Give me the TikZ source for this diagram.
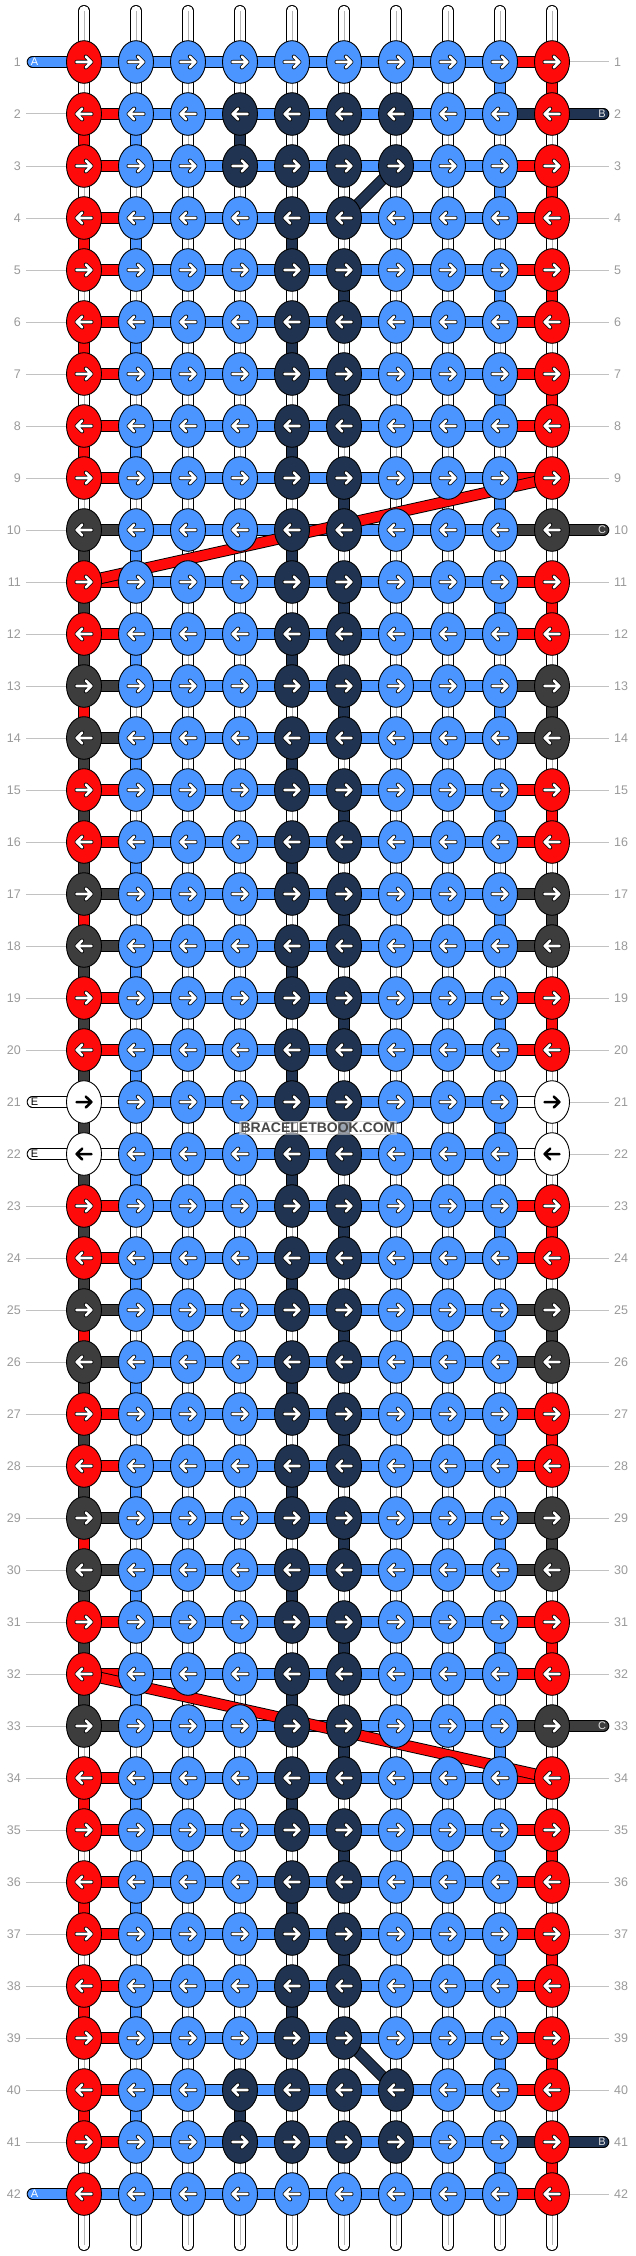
\documentclass[tikz,border=0pt]{standalone}
\usepackage{fontspec}
\setmainfont{Liberation Sans}
\usetikzlibrary{shapes.geometric}
\definecolor{colR}{HTML}{FF0A0A}
\definecolor{colB}{HTML}{4A95FF}
\definecolor{colN}{HTML}{203350}
\definecolor{colG}{HTML}{3D3D3D}
\definecolor{colW}{HTML}{FFFFFF}
\definecolor{lblgray}{HTML}{9A9A9A}
\definecolor{guidegray}{HTML}{C2C2C2}
\definecolor{warpgray}{HTML}{B4B4B4}
\newcommand\bbedge[1]{\ifcase#1\or R\or R\or R\or R\or R\or R\or R\or R\or R\or G\or R\or R\or G\or G\or R\or R\or G\or G\or R\or R\or W\or W\or R\or R\or G\or G\or R\or R\or G\or G\or R\or R\or G\or R\or R\or R\or R\or R\or R\or R\or R\or R\fi}
\newcommand\bbstrand[3]{\draw[line width=11.6pt,black](#2)--(#3);\draw[line width=9.8pt,color=col#1](#2)--(#3);}
\newcommand\bbwarp[2]{\draw[line width=11.6pt,black](#1)--(#2);\draw[line width=9.8pt,white](#1)--(#2);\draw[line width=0.9pt,warpgray](#1)--(#2);}
\tikzset{
 knot/.style={ellipse, draw=black, line width=0.9pt, minimum width=35pt, minimum height=42.6pt, inner sep=0pt},
 arrW/.pic={\draw[line width=4pt,black,line cap=round,line join=round] (-7.5,0)--(7,0) (1.8,-5.4)--(7.4,0)--(1.8,5.4);
            \draw[line width=2.6pt,white,line cap=round,line join=round] (-7.5,0)--(7,0) (1.8,-5.4)--(7.4,0)--(1.8,5.4);},
 arrK/.pic={\draw[line width=2.5pt,black,line cap=round,line join=round] (-7.5,0)--(7,0) (1.8,-5.4)--(7.4,0)--(1.8,5.4);},
 numlbl/.style={text=lblgray, font=\fontsize{12.5}{14}\selectfont, inner sep=0pt},
 pilllbl/.style={font=\fontsize{11}{12}\selectfont, inner sep=0pt},
 guide/.style={guidegray, line width=1pt},
}
\begin{document}
\begin{tikzpicture}[x=1pt,y=-1pt]
\fill[white] (0,0) rectangle (636,2256);
\useasboundingbox (0,0) rectangle (636,2256);
% coordinates
\foreach \r in {1,...,42}{
  \foreach \c in {1,...,10}{
    \coordinate (p-\r-\c) at ({32+52*\c},{10+52*\r});
  }
}
\foreach \c in {1,...,10}{
  \coordinate (top-\c) at ({32+52*\c},10.8);
  \coordinate (bot-\c) at ({32+52*\c},2245.2);
  \draw[line width=11.6pt,black,line cap=round] (top-\c)--(p-1-\c);
  \draw[line width=9.8pt,white,line cap=round] (top-\c)--(p-1-\c);
  \draw[line width=0.9pt,warpgray] (top-\c)--(p-1-\c);
  \draw[line width=11.6pt,black,line cap=round] (bot-\c)--(p-42-\c);
  \draw[line width=9.8pt,white,line cap=round] (bot-\c)--(p-42-\c);
  \draw[line width=0.9pt,warpgray] (bot-\c)--(p-42-\c);
}
% vertical warp connectors
\foreach \c in {1,...,10}{
  \foreach \r in {1,...,41}{
    \pgfmathtruncatemacro\rn{\r+1}
    \bbwarp{p-\r-\c}{p-\rn-\c}
  }
}
% coloured vertical connectors
\foreach \r/\k in {2/R,4/R,6/R,8/R,13/R,17/R,25/R,29/R,34/R,36/R,38/R,40/R,10/G,11/G,12/G,14/G,15/G,16/G,18/G,19/G,20/G,21/G,22/G,23/G,24/G,26/G,27/G,28/G,30/G,31/G,32/G}{
  \pgfmathtruncatemacro\rn{\r+1}
  \bbstrand{\k}{p-\r-1}{p-\rn-1}
}
\foreach \r/\k in {1/R,3/R,5/R,7/R,11/R,15/R,19/R,23/R,27/R,31/R,35/R,37/R,39/R,41/R,13/G,17/G,25/G,29/G}{
  \pgfmathtruncatemacro\rn{\r+1}
  \bbstrand{\k}{p-\r-10}{p-\rn-10}
}
\foreach \r in {2,4,...,40}{
  \pgfmathtruncatemacro\rn{\r+1}
  \bbstrand{B}{p-\r-2}{p-\rn-2}
}
\foreach \r in {1,3,...,41}{
  \pgfmathtruncatemacro\rn{\r+1}
  \bbstrand{B}{p-\r-9}{p-\rn-9}
}
\foreach \r in {4,6,...,38}{
  \pgfmathtruncatemacro\rn{\r+1}
  \bbstrand{N}{p-\r-5}{p-\rn-5}
}
\foreach \r in {5,7,...,37}{
  \pgfmathtruncatemacro\rn{\r+1}
  \bbstrand{N}{p-\r-6}{p-\rn-6}
}
\bbstrand{N}{p-2-4}{p-3-4}
\bbstrand{N}{p-40-4}{p-41-4}
% horizontal connectors
\foreach \r in {1,...,42}{
  \edef\kc{\bbedge{\r}}
  \ifnum\r=1 \def\kc{B}\fi
  \ifnum\r=42 \def\kc{B}\fi
  \bbstrand{\kc}{p-\r-1}{p-\r-2}
  \edef\kc{\bbedge{\r}}
  \ifnum\r=2 \def\kc{N}\fi
  \ifnum\r=41 \def\kc{N}\fi
  \bbstrand{\kc}{p-\r-9}{p-\r-10}
  \foreach \c in {2,...,8}{
    \pgfmathtruncatemacro\cn{\c+1}
    \bbstrand{B}{p-\r-\c}{p-\r-\cn}
  }
}
% diagonal strands
\bbstrand{N}{p-3-7}{p-4-6}
\bbstrand{N}{p-39-6}{p-40-7}
\bbstrand{R}{p-9-10}{p-11-1}
\bbstrand{R}{p-32-1}{p-34-10}
% guides, pills and row numbers
\foreach \r in {1,...,42}{
  \coordinate (gl-\r) at (26,{10+52*\r});
  \coordinate (gr-\r) at (609,{10+52*\r});
  \node[numlbl,anchor=east] (nl-\r) at (21,{10+52*\r}) {\r};
  \node[numlbl,anchor=west] (nr-\r) at (614,{10+52*\r}) {\r};
}
\foreach \r in {2,...,20,23,24,...,41}{
  \draw[guide] (gl-\r)--(p-\r-1);
}
\foreach \r in {1,3,4,5,6,7,8,9,11,12,...,32,34,35,...,40,42}{
  \draw[guide] (p-\r-10)--(gr-\r);
}
\foreach \r/\k/\t/\tc in {1/B/A/white,42/B/A/white,21/W/E/black,22/W/E/black}{
  \coordinate (pl-\r) at (32.5,{10+52*\r});
  \draw[line width=11.6pt,black,line cap=round] (pl-\r)--(p-\r-1);
  \draw[line width=9.8pt,color=col\k,line cap=round] (pl-\r)--(p-\r-1);
  \node[pilllbl,text=\tc] (tl-\r) at (34.5,{10+52*\r}) {\t};
}
\foreach \r/\k/\t in {2/N/B,41/N/B,10/G/C,33/G/C}{
  \coordinate (pr-\r) at (603.5,{10+52*\r});
  \draw[line width=11.6pt,black,line cap=round] (p-\r-10)--(pr-\r);
  \draw[line width=9.8pt,color=col\k,line cap=round] (p-\r-10)--(pr-\r);
  \node[pilllbl,text=white!88!black] (tr-\r) at (602,{10+52*\r}) {\t};
}
% knots
\foreach \r in {1,...,42}{
  \foreach \c in {1,...,10}{
    \def\kc{B}
    \ifnum\c=1 \edef\kc{\bbedge{\r}}\fi
    \ifnum\c=10 \edef\kc{\bbedge{\r}}\fi
    \ifnum\r>1 \ifnum\r<42
      \ifnum\c=5 \def\kc{N}\fi
      \ifnum\c=6 \def\kc{N}\fi
    \fi\fi
    \pgfmathtruncatemacro\isn{((\c==4)||(\c==7))&&((\r==2)||(\r==3)||(\r==40)||(\r==41))}
    \ifnum\isn=1 \def\kc{N}\fi
    \node[knot,fill=col\kc] (k-\r-\c) at (p-\r-\c) {};
    \if\kc W
      \ifodd\r \pic at (p-\r-\c) {arrK};\else \pic[xscale=-1] at (p-\r-\c) {arrK};\fi
    \else
      \ifodd\r \pic at (p-\r-\c) {arrW};\else \pic[xscale=-1] at (p-\r-\c) {arrW};\fi
    \fi
  }
}
% watermark
\node[fill=white, fill opacity=0.55, text opacity=1, draw=gray!45, draw opacity=0.6, line width=0.6pt, inner xsep=1pt, inner ysep=1.5pt, text=black!72, font=\bfseries\fontsize{14}{14}\selectfont] (wm) at (318,1127.5) {BRACELETBOOK.COM};
\end{tikzpicture}
\end{document}
